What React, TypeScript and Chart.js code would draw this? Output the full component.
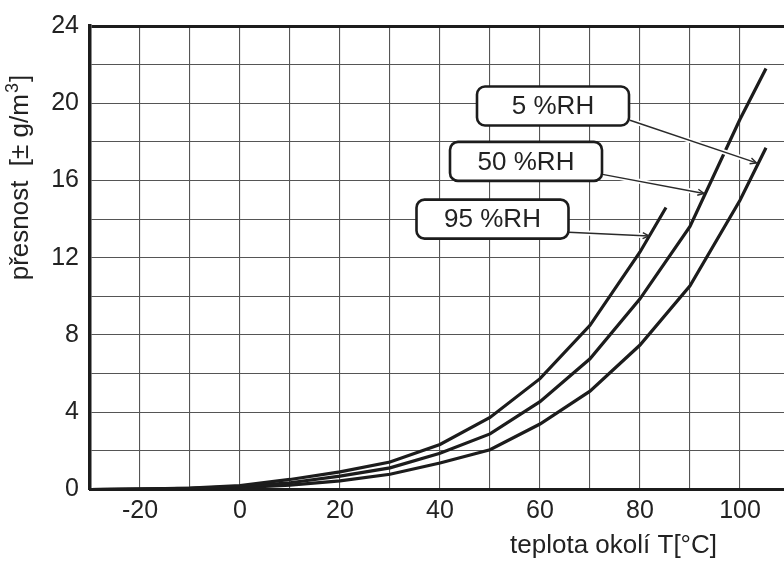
import React, { useEffect, useRef } from 'react';
import { Chart, registerables } from 'chart.js';

Chart.register(...registerables);

// ---- data ----
const temps95 = [-30, -20, -10, 0, 10, 20, 30, 40, 50, 60, 70, 80, 85.2];
const rh95 = [0, 0.02, 0.07, 0.2, 0.52, 0.91, 1.42, 2.33, 3.73, 5.74, 8.5, 12.3, 14.6];

const temps50 = [-30, -20, -10, 0, 10, 20, 30, 40, 50, 60, 70, 80, 90, 100, 105.2];
const rh50 = [0, 0.02, 0.06, 0.15, 0.35, 0.69, 1.12, 1.88, 2.88, 4.55, 6.77, 9.87, 13.62, 19.17, 21.8];

const temps5 = [-30, -20, -10, 0, 10, 20, 30, 40, 50, 60, 70, 80, 90, 100, 105.2];
const rh5 = [0, 0.02, 0.05, 0.1, 0.23, 0.45, 0.79, 1.37, 2.06, 3.39, 5.09, 7.48, 10.55, 14.98, 17.7];

const seriesNames = ['95 %RH', '50 %RH', '5 %RH'];

const xTickValues = [-20, -10, 0, 10, 20, 30, 40, 50, 60, 70, 80, 90, 100];
const xLabelValues = [-20, 0, 20, 40, 60, 80, 100];
const yLabelValues = [0, 4, 8, 12, 16, 20, 24];

// callout anchors in data units (temperature, g/m3)
const boxCenterT = [50.5, 57.2, 62.6];
const boxCenterV = [14.0, 16.99, 19.86];
const leaderStartT = [65.7, 72.5, 78.0];
const leaderStartV = [13.32, 16.32, 19.12];
const leaderTipT = [81.8, 92.8, 103.3];
const leaderTipV = [13.13, 15.33, 16.91];

const xTitle = 'teplota okolí T[°C]';
const yTitleMain = 'přesnost  [± g/m';
const yTitleSup = '3';
const yTitleEnd = ']';

const FONT = "'Liberation Sans', Arial, Helvetica, sans-serif";
const INK = '#1c1c1c';

const toPoints = (xs: number[], ys: number[]) => xs.map((x, i) => ({ x, y: ys[i] }));

const calloutPlugin = {
  id: 'callouts',
  afterDatasetsDraw(chart: any) {
    const { ctx, scales } = chart;
    const xs = scales.x;
    const ys = scales.y;
    ctx.save();
    // leaders
    for (let i = 0; i < seriesNames.length; i++) {
      const sx = xs.getPixelForValue(leaderStartT[i]);
      const sy = ys.getPixelForValue(leaderStartV[i]);
      const tx = xs.getPixelForValue(leaderTipT[i]);
      const ty = ys.getPixelForValue(leaderTipV[i]);
      const ang = Math.atan2(ty - sy, tx - sx);
      const len = Math.hypot(tx - sx, ty - sy);
      const hx = sx + Math.cos(ang) * (len - 7);
      const hy = sy + Math.sin(ang) * (len - 7);
      ctx.strokeStyle = '#ffffff';
      ctx.lineWidth = 5;
      ctx.beginPath();
      ctx.moveTo(sx, sy);
      ctx.lineTo(hx, hy);
      ctx.stroke();
      ctx.strokeStyle = '#2a2a2a';
      ctx.lineWidth = 1.4;
      ctx.beginPath();
      ctx.moveTo(sx, sy);
      ctx.lineTo(tx, ty);
      ctx.stroke();
      const ah = 7;
      ctx.beginPath();
      ctx.moveTo(tx - Math.cos(ang - 0.45) * ah, ty - Math.sin(ang - 0.45) * ah);
      ctx.lineTo(tx, ty);
      ctx.lineTo(tx - Math.cos(ang + 0.45) * ah, ty - Math.sin(ang + 0.45) * ah);
      ctx.stroke();
    }
    // boxes
    const bw = 152;
    const bh = 39;
    for (let i = 0; i < seriesNames.length; i++) {
      const cx = xs.getPixelForValue(boxCenterT[i]);
      const cy = ys.getPixelForValue(boxCenterV[i]);
      ctx.beginPath();
      (ctx as any).roundRect(cx - bw / 2, cy - bh / 2, bw, bh, 8);
      ctx.fillStyle = '#ffffff';
      ctx.fill();
      ctx.strokeStyle = INK;
      ctx.lineWidth = 2.6;
      ctx.stroke();
      ctx.fillStyle = '#222';
      ctx.font = `26px ${FONT}`;
      ctx.textAlign = 'center';
      ctx.textBaseline = 'middle';
      ctx.fillText(seriesNames[i], cx, cy + 1);
    }
    ctx.restore();
  },
  afterDraw(chart: any) {
    const { ctx, scales } = chart;
    const xs = scales.x;
    const ys = scales.y;
    ctx.save();
    ctx.fillStyle = '#222';
    ctx.font = `26px ${FONT}`;
    // x title
    ctx.textAlign = 'right';
    ctx.textBaseline = 'alphabetic';
    ctx.fillText(xTitle, xs.getPixelForValue(95.4), 553);
    // y title (rotated, with superscript)
    ctx.translate(28, ys.getPixelForValue(16.15));
    ctx.rotate(-Math.PI / 2);
    ctx.textAlign = 'left';
    const mainFont = `26px ${FONT}`;
    const supFont = `18px ${FONT}`;
    ctx.font = mainFont;
    const w1 = ctx.measureText(yTitleMain).width;
    const w3 = ctx.measureText(yTitleEnd).width;
    ctx.font = supFont;
    const w2 = ctx.measureText(yTitleSup).width;
    const total = w1 + w2 + 2 + w3;
    let px = -total / 2;
    ctx.font = mainFont;
    ctx.fillText(yTitleMain, px, 0);
    px += w1 + 1;
    ctx.font = supFont;
    ctx.fillText(yTitleSup, px, -10);
    px += w2 + 1;
    ctx.font = mainFont;
    ctx.fillText(yTitleEnd, px, 0);
    ctx.restore();
  },
};

export default function App() {
  const ref = useRef<HTMLCanvasElement>(null);
  useEffect(() => {
    if (!ref.current) return;
    const lineDs = (label: string, data: { x: number; y: number }[]) => ({
      label,
      data,
      borderColor: INK,
      borderWidth: 3.2,
      pointRadius: 0,
      tension: 0,
      fill: false,
    });
    const chart = new Chart(ref.current, {
      type: 'line',
      data: {
        datasets: [
          lineDs(seriesNames[0], toPoints(temps95, rh95)),
          lineDs(seriesNames[1], toPoints(temps50, rh50)),
          lineDs(seriesNames[2], toPoints(temps5, rh5)),
        ],
      },
      options: {
        animation: false,
        responsive: true,
        maintainAspectRatio: false,
        layout: { padding: { top: 20, right: 0, left: 0, bottom: 0 } },
        plugins: { legend: { display: false }, tooltip: { enabled: false } },
        scales: {
          x: {
            type: 'linear',
            min: -30,
            max: 108.8,
            afterBuildTicks: (scale: any) => {
              scale.ticks = xTickValues.map((v) => ({ value: v }));
            },
            afterFit: (scale: any) => {
              scale.height = 71.5;
            },
            ticks: {
              autoSkip: false,
              maxRotation: 0,
              padding: 7,
              color: '#222',
              font: { family: FONT, size: 25 },
              callback: (v: any) => (xLabelValues.includes(Number(v)) ? String(v) : ''),
            },
            grid: { color: '#555555', lineWidth: 1.1, drawTicks: false },
            border: { color: INK, width: 3 },
          },
          y: {
            type: 'linear',
            min: 0,
            max: 24,
            afterFit: (scale: any) => {
              scale.width = 90;
            },
            ticks: {
              stepSize: 2,
              autoSkip: false,
              padding: 11,
              color: '#222',
              font: { family: FONT, size: 25 },
              callback: (v: any) => (yLabelValues.includes(Number(v)) ? String(v) : ''),
            },
            grid: {
              color: (c: any) => (c.tick && c.tick.value === 24 ? INK : '#555555'),
              lineWidth: (c: any) => (c.tick && c.tick.value === 24 ? 3 : 1.1),
              drawTicks: false,
            },
            border: { color: INK, width: 3.5 },
          },
        },
      },
      plugins: [calloutPlugin],
    } as any);
    return () => chart.destroy();
  }, []);
  return (
    <div style={{ position: 'fixed', left: 0, top: 0, width: 784, height: 561, background: '#fff' }}>
      <canvas ref={ref} />
    </div>
  );
}
